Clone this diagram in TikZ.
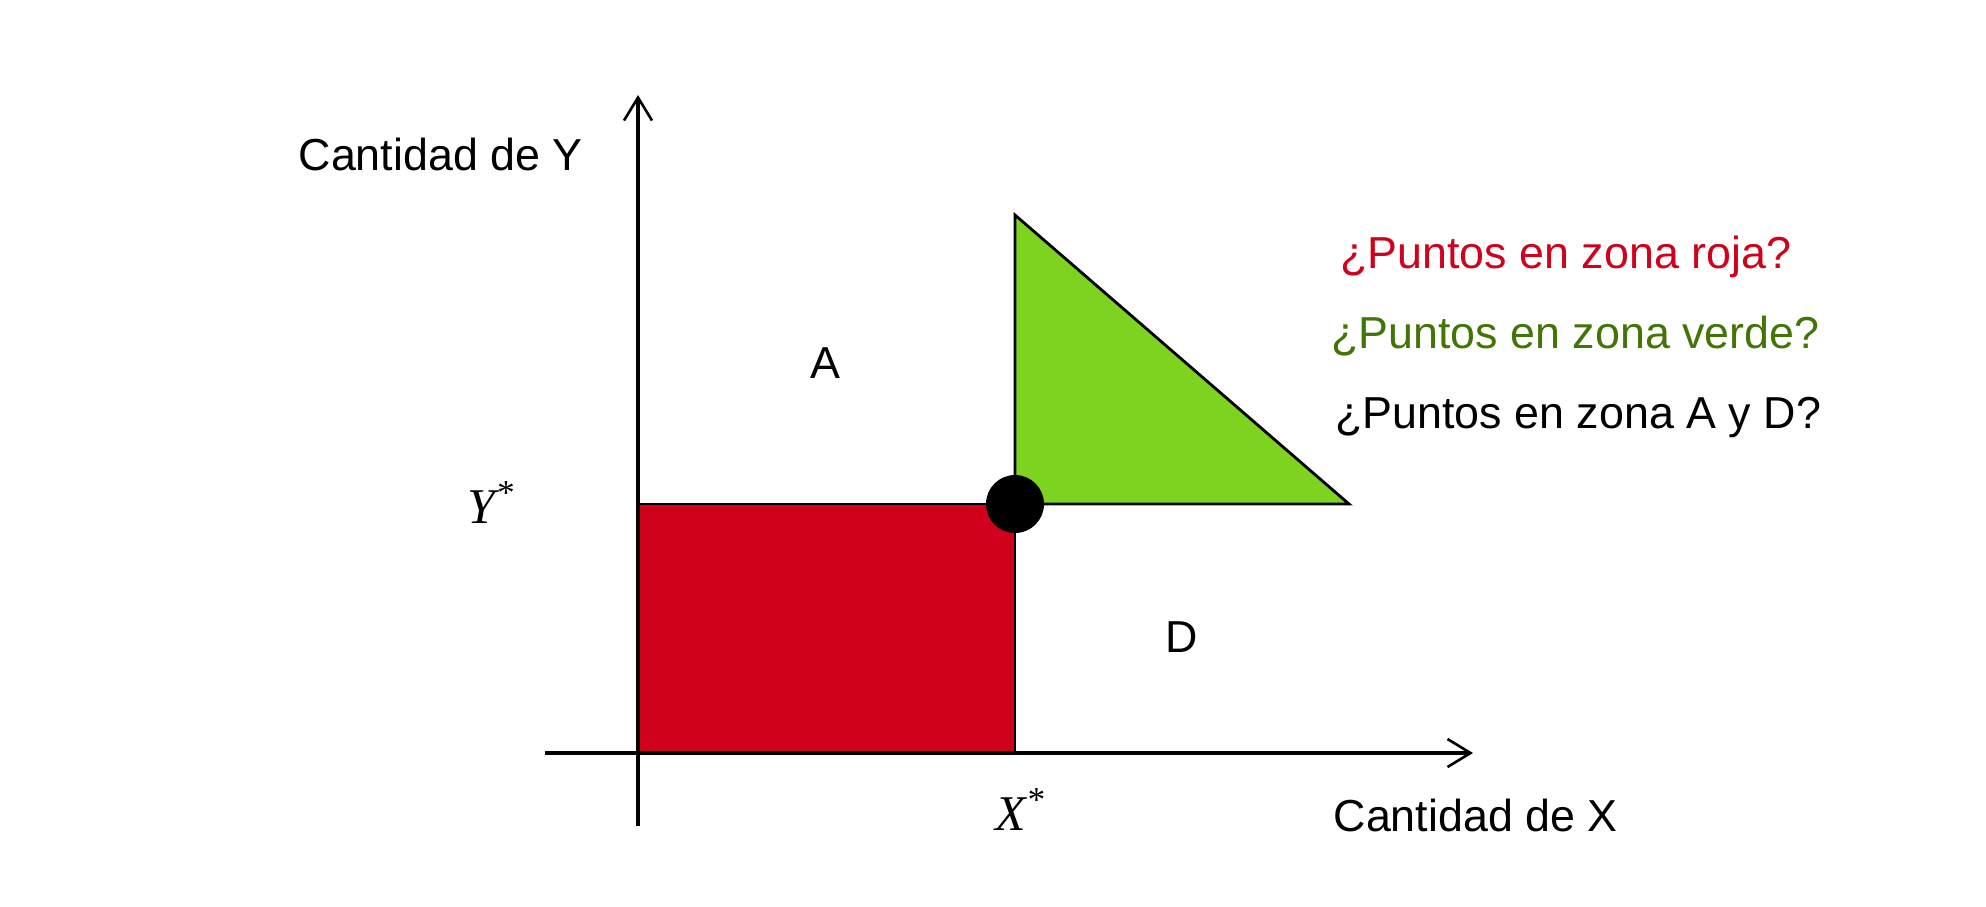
\documentclass[tikz,border=0pt]{standalone}
\usepackage{fontspec}
\setmainfont{Liberation Sans}
\newfontfamily\timesfont{Liberation Serif}
\usetikzlibrary{arrows.meta}
\definecolor{rojo}{RGB}{208,2,27}
\definecolor{verde}{RGB}{126,211,33}
\definecolor{verdeosc}{RGB}{65,117,5}
\tikzset{
  eje/.style={line width=1.6pt,-{Straight Barb[length=11.5pt,width=14pt,line width=1.3pt]}},
  zona/.style={draw=black,line width=1.4pt},
  rotulo/.style={inner sep=0pt,anchor=base},
  pregunta/.style={inner sep=0pt,anchor=base west},
  estrella/.style={rotulo,font=\fontsize{25}{30}\selectfont\timesfont\itshape},
}
\begin{document}
\begin{tikzpicture}[x=0.5pt,y=-0.5pt,font=\fontsize{22.4}{27}\selectfont]
\useasboundingbox (0,0) rectangle (1986,906);

\coordinate (O) at (638,753);
\coordinate (xini) at (545,753);
\coordinate (xfin) at (1473,753);
\coordinate (yini) at (638,826);
\coordinate (yfin) at (638,95);
\coordinate (eqx) at (1015,753);
\coordinate (eqy) at (638,504);
\coordinate (tope) at (1015,215);
\coordinate (punta) at (1349,504);

% zonas
\fill[rojo] (O) rectangle (1015,504);
\draw[zona] (eqy) -- (1015,504) -- (eqx);
\draw[zona,fill=verde] (tope) -- (1015,504) -- (punta) -- cycle;

% ejes
\draw[eje] (xini) -- (xfin);
\draw[eje] (yini) -- (yfin);

\node[circle,fill=black,inner sep=0pt,minimum size=29pt] (eq) at (1015,504) {};

\node[rotulo,anchor=base east] (ylab) at (583,170) {Cantidad de Y};
\node[rotulo,anchor=base east] (xlab) at (1618,831) {Cantidad de X};
\node[rotulo] (A) at (825,378) {A};
\node[rotulo] (D) at (1182,652) {D};
\node[estrella] (ystar) at (491,523) {Y\textsuperscript{*}};
\node[estrella] (xstar) at (1020,830) {X\textsuperscript{*}};

\node[pregunta,text=rojo] (q1) at (1340,268) {¿Puntos en zona roja?};
\node[pregunta,text=verdeosc] (q2) at (1331,348) {¿Puntos en zona verde?};
\node[pregunta] (q3) at (1335,428) {¿Puntos en zona A y D?};

\end{tikzpicture}
\end{document}
